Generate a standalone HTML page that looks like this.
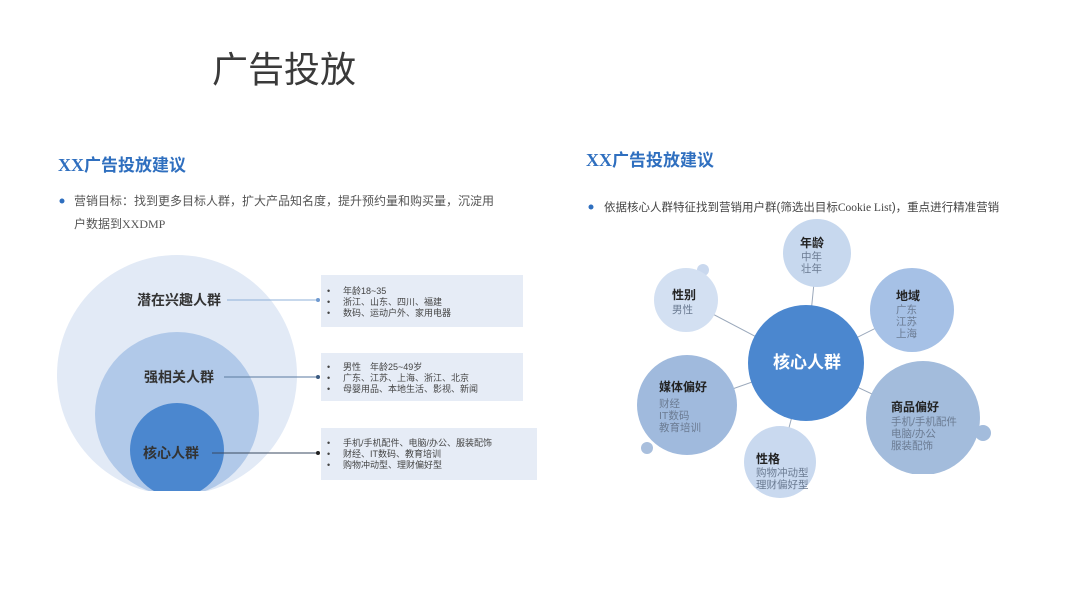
<!DOCTYPE html>
<html><head><meta charset="utf-8"><style>
html,body{margin:0;padding:0;background:#fff;}
body{width:1080px;height:608px;overflow:hidden;}
svg{display:block;font-family:"Liberation Sans","Noto Sans CJK SC",sans-serif;}
.sr{font-family:"Liberation Serif","Noto Sans CJK SC",serif;}
</style></head><body>
<svg width="1080" height="608" viewBox="0 0 1080 608">
<defs><clipPath id="cl"><rect x="0" y="0" width="560" height="491"/></clipPath>
<clipPath id="cr"><rect x="560" y="0" width="520" height="474"/></clipPath></defs>
<text x="212" y="82" font-size="36" fill="#3a3a3a">广告投放</text>

<!-- left -->
<text x="58" y="171" font-size="17" font-weight="bold" fill="#2f6fbf"><tspan class="sr" font-size="18">XX</tspan>广告投放建议</text>
<circle cx="62" cy="201" r="2.5" fill="#2f6fbf"/>
<text x="74" y="205" font-size="12" fill="#555">营销目标：找到更多目标人群，扩大产品知名度，提升预约量和购买量，沉淀用</text>
<text x="74" y="228" font-size="12" fill="#555">户数据到<tspan class="sr">XXDMP</tspan></text>
<g clip-path="url(#cl)">
<circle cx="177" cy="375" r="120" fill="#e2eaf6"/>
<circle cx="177" cy="414" r="82" fill="#b1c9e9"/>
<circle cx="177" cy="450" r="47" fill="#4b87cf"/>
</g>
<g font-size="14" font-weight="bold" fill="#333" text-anchor="middle">
<text x="179" y="305">潜在兴趣人群</text>
<text x="179" y="382">强相关人群</text>
<text x="171" y="458">核心人群</text>
</g>
<g stroke-width="1">
<line x1="227" y1="300" x2="318" y2="300" stroke="#8fb0d8"/>
<line x1="224" y1="377" x2="318" y2="377" stroke="#5a7aa0"/>
<line x1="212" y1="453" x2="318" y2="453" stroke="#3a4a60"/>
</g>
<circle cx="318" cy="300" r="2" fill="#6f9ad0"/>
<circle cx="318" cy="377" r="2" fill="#3a5a80"/>
<circle cx="318" cy="453" r="2" fill="#222"/>
<g fill="#e6ecf6">
<rect x="321" y="275" width="202" height="52"/>
<rect x="321" y="353" width="202" height="48"/>
<rect x="321" y="428" width="216" height="52"/>
</g>
<g font-size="9" fill="#444">
<text x="327" y="294">•</text><text x="343" y="294">年龄18~35</text>
<text x="327" y="305">•</text><text x="343" y="305">浙江、山东、四川、福建</text>
<text x="327" y="316">•</text><text x="343" y="316">数码、运动户外、家用电器</text>
<text x="327" y="370">•</text><text x="343" y="370">男性　年龄25~49岁</text>
<text x="327" y="381">•</text><text x="343" y="381">广东、江苏、上海、浙江、北京</text>
<text x="327" y="392">•</text><text x="343" y="392">母婴用品、本地生活、影视、新闻</text>
<text x="327" y="446">•</text><text x="343" y="446">手机/手机配件、电脑/办公、服装配饰</text>
<text x="327" y="457">•</text><text x="343" y="457">财经、IT数码、教育培训</text>
<text x="327" y="468">•</text><text x="343" y="468">购物冲动型、理财偏好型</text>
</g>

<!-- right -->
<text x="586" y="166" font-size="17" font-weight="bold" fill="#2f6fbf"><tspan class="sr" font-size="18">XX</tspan>广告投放建议</text>
<circle cx="591" cy="207" r="2.5" fill="#2f6fbf"/>
<text x="604" y="211" font-size="11.5" fill="#444">依据核心人群特征找到营销用户群(筛选出目标<tspan class="sr">Cookie List</tspan>)，重点进行精准营销</text>
<g stroke="#9aa8bb" stroke-width="1">
<line x1="806" y1="363" x2="817" y2="253"/>
<line x1="806" y1="363" x2="686" y2="300"/>
<line x1="806" y1="363" x2="912" y2="310"/>
<line x1="806" y1="363" x2="687" y2="405"/>
<line x1="806" y1="363" x2="923" y2="418"/>
<line x1="806" y1="363" x2="780" y2="462"/>
</g>
<g clip-path="url(#cr)">
<circle cx="703" cy="270" r="6" fill="#c9d8ee"/>
<circle cx="647" cy="448" r="6" fill="#a9bfdd"/>
<circle cx="983" cy="433" r="8" fill="#a3bcdc"/>
<circle cx="817" cy="253" r="34" fill="#c7d8ee"/>
<circle cx="686" cy="300" r="32" fill="#d3e0f2"/>
<circle cx="912" cy="310" r="42" fill="#a6c1e6"/>
<circle cx="687" cy="405" r="50" fill="#a0badd"/>
<circle cx="923" cy="418" r="57" fill="#a3bcdc"/>
<circle cx="806" cy="363" r="58" fill="#4b87cf"/>
</g>
<circle cx="780" cy="462" r="36" fill="#c9d9ef"/>
<text x="807" y="368" font-size="17" font-weight="bold" fill="#fff" text-anchor="middle">核心人群</text>
<g font-size="12" font-weight="bold" fill="#222">
<text x="800" y="247">年龄</text>
<text x="672" y="299">性别</text>
<text x="896" y="300">地域</text>
<text x="659" y="391">媒体偏好</text>
<text x="891" y="411">商品偏好</text>
<text x="756" y="463">性格</text>
</g>
<g font-size="10.5" fill="#6b7b92">
<text x="801" y="260">中年</text><text x="801" y="272">壮年</text>
<text x="672" y="313">男性</text>
<text x="896" y="313">广东</text><text x="896" y="325">江苏</text><text x="896" y="337">上海</text>
<text x="659" y="407">财经</text><text x="659" y="419">IT数码</text><text x="659" y="431">教育培训</text>
<text x="891" y="425">手机/手机配件</text><text x="891" y="437">电脑/办公</text><text x="891" y="449">服装配饰</text>
<text x="756" y="476">购物冲动型</text><text x="756" y="488">理财偏好型</text>
</g>
</svg>
</body></html>
